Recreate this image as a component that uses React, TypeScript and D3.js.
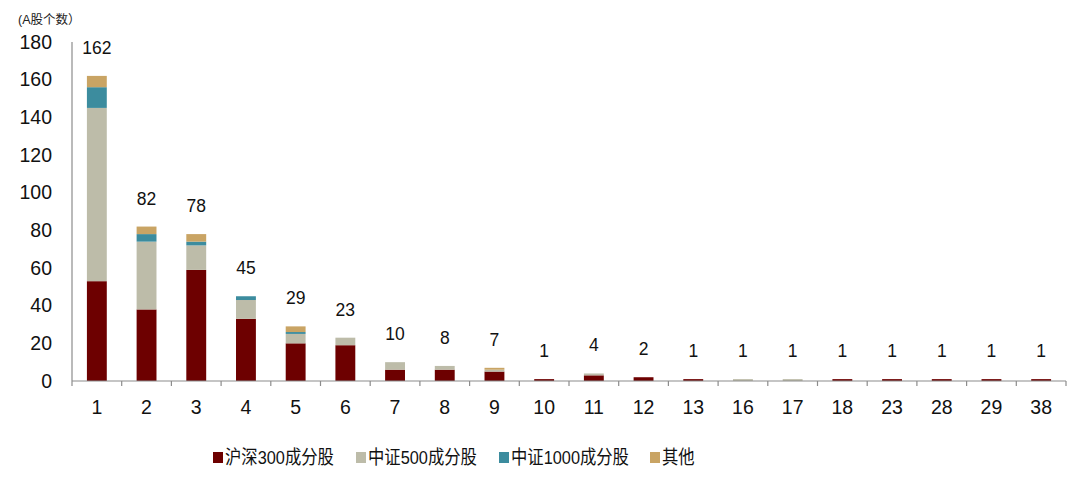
import React from 'react';
import * as d3 from 'd3';

const categories = ['1', '2', '3', '4', '5', '6', '7', '8', '9', '10', '11', '12', '13', '16', '17', '18', '23', '28', '29', '38'];
const hs300 = [53, 38, 59, 33, 20, 19, 6, 6, 5, 1, 3, 2, 1, 0, 0, 1, 1, 1, 1, 1];
const zz500 = [92, 36, 13, 10, 5, 4, 4, 2, 1, 0, 1, 0, 0, 1, 1, 0, 0, 0, 0, 0];
const zz1000 = [11, 4, 2, 2, 1, 0, 0, 0, 0, 0, 0, 0, 0, 0, 0, 0, 0, 0, 0, 0];
const others = [6, 4, 4, 0, 3, 0, 0, 0, 1, 0, 0, 0, 0, 0, 0, 0, 0, 0, 0, 0];
const seriesNames = ['沪深300成分股', '中证500成分股', '中证1000成分股', '其他'];
const yTicks = [0, 20, 40, 60, 80, 100, 120, 140, 160, 180];

const colors = ['#6d0000', '#bdbca9', '#3c8c9e', '#c9a464'];
const font = '"Liberation Sans", Arial, "Noto Sans CJK SC", sans-serif';

const W = 1080;
const H = 482;
const left = 72;
const right = 1066;
const top = 42;
const bottom = 381;

export default function App() {
  const x = d3.scaleBand<string>().domain(categories).range([left, right]).paddingInner(0.6).paddingOuter(0.3);
  const y = d3.scaleLinear().domain([0, 180]).range([bottom, top]);

  const rows = categories.map((c, i) => ({
    cat: c,
    s0: hs300[i],
    s1: zz500[i],
    s2: zz1000[i],
    s3: others[i],
  }));
  const stack = d3.stack<any>().keys(['s0', 's1', 's2', 's3']);
  const layers = stack(rows);

  const step = (right - left) / categories.length;
  const tickXs = d3.range(categories.length + 1).map((i) => left + i * step);

  // legend marker positions
  const legendX = [213, 356, 499, 650];

  return (
    <svg width={W} height={H} style={{ position: 'absolute', left: 0, top: 0, background: '#fff' }}>
      <text x={18} y={24} fontSize={12.5} fontFamily={font} fill="#222">(A股个数）</text>

      {yTicks.map((t) => (
        <text key={t} x={52} y={y(t)} dy="0.35em" textAnchor="end" fontSize={19.5} fontFamily={font} fill="#111">
          {t}
        </text>
      ))}

      {layers.map((layer, li) => (
        <g key={li} fill={colors[li]}>
          {layer.map((d: any, i: number) => {
            const h = y(d[0]) - y(d[1]);
            if (h <= 0) return null;
            return (
              <rect key={i} x={x(categories[i])} width={x.bandwidth()} y={y(d[1])} height={h} />
            );
          })}
        </g>
      ))}

      <line x1={left} x2={left} y1={top} y2={bottom} stroke="#8c8c8c" strokeWidth={1.2} />
      <line x1={left} x2={right} y1={bottom} y2={bottom} stroke="#8c8c8c" strokeWidth={1.2} />
      {tickXs.map((tx, i) => (
        <line key={i} x1={tx} x2={tx} y1={bottom} y2={bottom + 5} stroke="#8c8c8c" strokeWidth={1.2} />
      ))}

      {categories.map((c, i) => {
        const total = hs300[i] + zz500[i] + zz1000[i] + others[i];
        const cx = (x(c) as number) + x.bandwidth() / 2;
        return (
          <g key={c}>
            <text x={cx} y={y(total) - 22} textAnchor="middle" fontSize={17.5} fontFamily={font} fill="#111">
              {total}
            </text>
            <text x={cx} y={414} textAnchor="middle" fontSize={19.5} fontFamily={font} fill="#111">
              {c}
            </text>
          </g>
        );
      })}

      {seriesNames.map((name, i) => (
        <g key={name} transform={`translate(${legendX[i]},0)`}>
          <rect x={0} y={452} width={10} height={11} fill={colors[i]} />
          <g transform="translate(12,464) scale(0.86,1)">
            <text x={0} y={0} fontSize={19} fontFamily={font} fill="#111">{name}</text>
          </g>
        </g>
      ))}
    </svg>
  );
}
